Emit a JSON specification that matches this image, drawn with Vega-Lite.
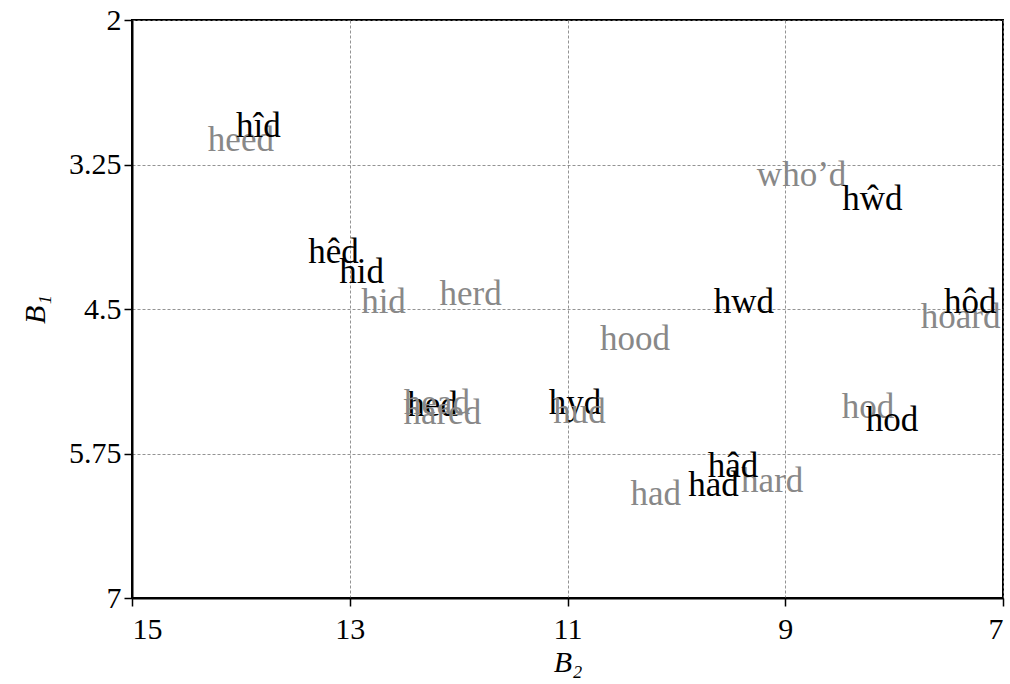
{
  "$schema": "https://vega.github.io/schema/vega-lite/v6.json",
  "width": 871,
  "height": 578,
  "autosize": "none",
  "padding": {"left": 132, "top": 20, "right": 7, "bottom": 86},
  "background": "white",
  "config": {
    "font": "Liberation Serif",
    "view": {"stroke": "black", "strokeWidth": 2},
    "axis": {
      "domainColor": "black", "domainWidth": 2,
      "tickColor": "black", "tickWidth": 1.5, "tickSize": 8,
      "labelColor": "black", "labelFont": "Liberation Serif", "labelFontSize": 30,
      "titleColor": "black", "titleFont": "Liberation Serif", "titleFontSize": 30,
      "titleFontStyle": "italic", "titleFontWeight": "normal",
      "gridColor": "#777777", "gridDash": [3, 2], "gridWidth": 0.8, "gridOpacity": 1
    }
  },
  "data": {"values": [
    {"word": "heed", "B2": 14.0, "B1": 3.04, "group": "gray"},
    {"word": "hîd", "B2": 13.84, "B1": 2.92, "group": "black"},
    {"word": "hêd", "B2": 13.15, "B1": 4.01, "group": "black"},
    {"word": "hid", "B2": 12.89, "B1": 4.18, "group": "black"},
    {"word": "hid", "B2": 12.69, "B1": 4.44, "group": "gray"},
    {"word": "herd", "B2": 11.89, "B1": 4.37, "group": "gray"},
    {"word": "hed", "B2": 12.24, "B1": 5.33, "group": "black"},
    {"word": "head", "B2": 12.2, "B1": 5.31, "group": "gray"},
    {"word": "hared", "B2": 12.15, "B1": 5.4, "group": "gray"},
    {"word": "hyd", "B2": 10.93, "B1": 5.31, "group": "black"},
    {"word": "hud", "B2": 10.89, "B1": 5.39, "group": "gray"},
    {"word": "hood", "B2": 10.38, "B1": 4.76, "group": "gray"},
    {"word": "had", "B2": 10.19, "B1": 6.1, "group": "gray"},
    {"word": "hard", "B2": 9.12, "B1": 5.99, "group": "gray"},
    {"word": "hâd", "B2": 9.48, "B1": 5.86, "group": "black"},
    {"word": "had", "B2": 9.66, "B1": 6.02, "group": "black"},
    {"word": "who’d", "B2": 8.85, "B1": 3.34, "group": "gray"},
    {"word": "hŵd", "B2": 8.2, "B1": 3.55, "group": "black"},
    {"word": "hwd", "B2": 9.38, "B1": 4.44, "group": "black"},
    {"word": "hoard", "B2": 7.39, "B1": 4.57, "group": "gray"},
    {"word": "hôd", "B2": 7.3, "B1": 4.44, "group": "black"},
    {"word": "hod", "B2": 8.24, "B1": 5.35, "group": "gray"},
    {"word": "hod", "B2": 8.02, "B1": 5.46, "group": "black"}
  ]},
  "mark": {"type": "text", "font": "Liberation Serif", "fontSize": 35, "align": "center", "baseline": "middle", "clip": false},
  "encoding": {
    "x": {
      "field": "B2", "type": "quantitative",
      "scale": {"domain": [15, 7], "nice": false, "zero": false},
      "axis": {"values": [15, 13, 11, 9, 7], "title": "B₂", "labelPadding": 8, "titlePadding": 3, "labelExpr": "'' + datum.value"}
    },
    "y": {
      "field": "B1", "type": "quantitative",
      "scale": {"domain": [2, 7], "reverse": true, "nice": false, "zero": false},
      "axis": {"values": [2, 3.25, 4.5, 5.75, 7], "title": "B₁", "labelPadding": 3, "titlePadding": 18, "labelExpr": "'' + datum.value"}
    },
    "text": {"field": "word"},
    "color": {"field": "group", "type": "nominal", "scale": {"domain": ["black", "gray"], "range": ["#000000", "#888888"]}, "legend": null}
  }
}
